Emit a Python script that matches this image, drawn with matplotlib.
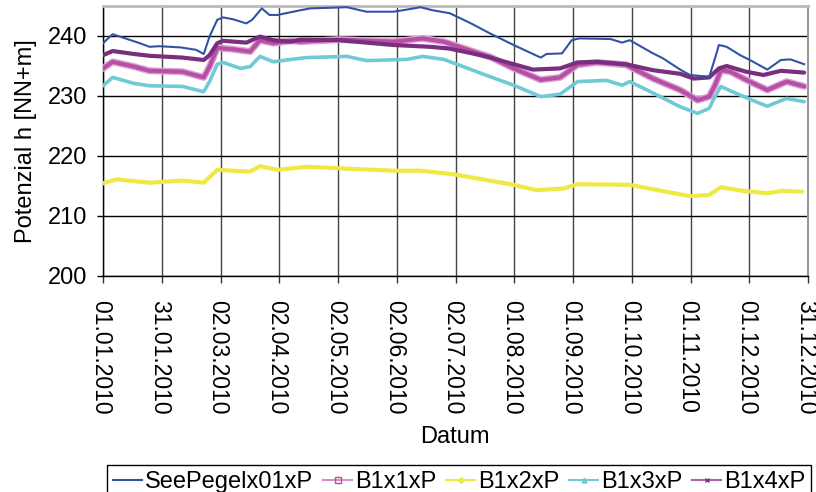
import matplotlib
matplotlib.use("Agg")
import matplotlib.pyplot as plt
from matplotlib.lines import Line2D
import numpy as np

plt.rcParams['font.family'] = ['Liberation Sans', 'DejaVu Sans']

# ---- data (day of year 2010, value in NN+m) ----
see_day = [0, 5, 19, 24, 29, 40, 48, 52, 55, 59, 62, 67, 74, 77, 82, 86, 90, 102, 107, 126, 136, 150, 155, 164, 170, 179, 190, 200, 212, 226, 229, 237, 242, 246, 262, 268, 272, 284, 289, 298, 303, 313, 316, 318, 322, 329, 334, 343, 350, 355, 362]
see_val = [238.8, 240.3, 238.8, 238.2, 238.3, 238.1, 237.7, 237.0, 239.9, 242.7, 243.1, 242.8, 242.1, 242.7, 244.6, 243.5, 243.5, 244.3, 244.6, 244.8, 244.05, 244.05, 244.3, 244.8, 244.3, 243.8, 242.1, 240.4, 238.5, 236.4, 237.0, 237.1, 239.3, 239.6, 239.5, 238.9, 239.3, 237.1, 236.3, 234.4, 233.5, 233.2, 236.3, 238.5, 238.2, 236.8, 236.0, 234.4, 236.0, 236.1, 235.3]

b1_day = [0, 5, 16, 24, 41, 52, 55, 59, 67, 76, 81, 88, 97, 102, 122, 150, 165, 176, 195, 200, 212, 226, 236, 245, 255, 270, 284, 298, 307, 313, 316, 319, 324, 332, 343, 353, 362]
b1_val = [234.6, 235.7, 234.9, 234.2, 234.05, 233.1, 234.9, 238.0, 237.8, 237.4, 239.3, 238.8, 239.2, 239.05, 239.4, 239.05, 239.6, 239.05, 237.0, 236.5, 234.6, 232.7, 233.1, 235.2, 235.6, 235.2, 232.9, 231.0, 229.3, 229.9, 231.8, 234.3, 234.05, 232.7, 231.0, 232.4, 231.6]

b2_day = [0, 7, 24, 41, 52, 59, 67, 76, 81, 90, 105, 122, 150, 164, 182, 212, 224, 238, 245, 272, 303, 313, 319, 330, 343, 351, 361]
b2_val = [215.45, 216.1, 215.55, 215.9, 215.55, 217.7, 217.55, 217.4, 218.3, 217.7, 218.2, 217.95, 217.55, 217.55, 216.9, 215.2, 214.3, 214.6, 215.3, 215.2, 213.3, 213.5, 214.8, 214.2, 213.8, 214.2, 214.05]

b3_day = [0, 5, 16, 24, 41, 52, 55, 59, 62, 71, 76, 81, 88, 97, 105, 126, 136, 157, 165, 176, 195, 200, 212, 226, 236, 245, 260, 268, 272, 284, 298, 307, 313, 315, 319, 325, 339, 343, 353, 362]
b3_val = [231.7, 233.1, 232.1, 231.7, 231.6, 230.7, 232.4, 235.3, 235.6, 234.6, 234.9, 236.6, 235.7, 236.1, 236.4, 236.6, 235.9, 236.1, 236.6, 236.1, 233.8, 233.2, 231.8, 229.9, 230.3, 232.4, 232.6, 231.8, 232.4, 230.5, 228.2, 227.1, 227.95, 229.3, 231.6, 230.7, 228.8, 228.3, 229.6, 229.05]

b4_day = [0, 5, 16, 24, 41, 52, 55, 59, 62, 74, 81, 88, 97, 102, 122, 150, 169, 179, 195, 200, 212, 222, 236, 245, 255, 270, 284, 298, 305, 313, 318, 322, 332, 341, 350, 362]
b4_val = [236.8, 237.5, 237.0, 236.7, 236.4, 236.0, 236.8, 238.8, 239.2, 238.9, 239.9, 239.3, 239.05, 239.4, 239.3, 238.5, 238.2, 237.9, 236.8, 236.4, 235.3, 234.4, 234.6, 235.6, 235.7, 235.3, 234.3, 233.7, 232.9, 233.1, 234.6, 235.0, 234.05, 233.5, 234.2, 233.9]

tick_labels = ["01.01.2010", "31.01.2010", "02.03.2010", "02.04.2010", "02.05.2010",
               "02.06.2010", "02.07.2010", "01.08.2010", "01.09.2010", "01.10.2010",
               "01.11.2010", "01.12.2010", "31.12.2010"]
y_ticks = [200, 210, 220, 230, 240]
series_names = ["SeePegelx01xP", "B1x1xP", "B1x2xP", "B1x3xP", "B1x4xP"]

# ---- styles ----
c_see = "#3153A6"
c_b1 = "#B64FA6"
c_b1_light = "#DDA2D3"
c_b2 = "#EEE945"
c_b3 = "#70CAD6"
c_b4 = "#7A2E7E"
FS = 17

fig = plt.figure(figsize=(8.16, 4.92), dpi=100)
ax = fig.add_axes([103/816, 1-276/492, 705/816, 270/492])

ax.plot(b2_day, b2_val, color=c_b2, lw=3.0, solid_capstyle='round', zorder=3)
ax.plot(b3_day, b3_val, color=c_b3, lw=2.6, solid_capstyle='round', zorder=3)
ax.plot(b1_day, b1_val, color=c_b1_light, lw=5.0, solid_capstyle='round', zorder=3)
ax.plot(b1_day, b1_val, color=c_b1, lw=3.0, solid_capstyle='round', zorder=3)
ax.plot(b4_day, b4_val, color=c_b4, lw=3.0, solid_capstyle='round', zorder=4)
ax.plot(see_day, see_val, color=c_see, lw=1.5, zorder=5)

ax.set_xlim(0, 364)
ax.set_ylim(200, 245)
ax.set_xticks(np.linspace(0, 364, len(tick_labels)))
ax.set_xticklabels(tick_labels, rotation=270, rotation_mode='anchor',
                   fontsize=16.5, ha='left', va='center_baseline')
ax.set_yticks(y_ticks)
ax.set_yticklabels([str(v) for v in y_ticks], fontsize=FS)
ax.tick_params(axis='x', direction='out', length=5, width=1, color='#333333', pad=12)
ax.tick_params(axis='y', direction='out', length=4.5, width=1, color='black', pad=7)

ax.grid(axis='y', color='black', lw=1.0, zorder=1)
ax.grid(axis='x', color='#444444', lw=1.0, zorder=1)
ax.set_axisbelow(True)

for s in ['left', 'bottom']:
    ax.spines[s].set_color('black')
    ax.spines[s].set_linewidth(1.0)
ax.spines['top'].set_color('#BBBBBB')
ax.spines['top'].set_linewidth(2.0)
ax.spines['right'].set_color('#999999')
ax.spines['right'].set_linewidth(1.5)

ax.set_ylabel("Potenzial h [NN+m]", fontsize=FS)
ax.yaxis.set_label_coords(-0.093, 0.5)
fig.text(455/816, 1-437/492, "Datum", fontsize=FS, ha='center', va='center')

handles = [
    Line2D([], [], color=c_see, lw=1.5),
    Line2D([], [], color="#D98ECF", lw=1.5, marker='s', markersize=5, mfc='none', mec=c_b1),
    Line2D([], [], color=c_b2, lw=1.5, marker='D', markersize=3, mfc=c_b2, mec=c_b2),
    Line2D([], [], color=c_b3, lw=1.5, marker='^', markersize=3.5, mfc=c_b3, mec=c_b3),
    Line2D([], [], color="#A860A8", lw=1.5, marker='x', markersize=3.5, mec=c_b4),
]
leg = fig.legend(handles, series_names, loc='upper left',
                 bbox_to_anchor=(107/816, 1-465/492), ncol=5,
                 prop={'size': FS},
                 frameon=True, fancybox=False, edgecolor='black', framealpha=1,
                 handlelength=1.25, handletextpad=0.12, columnspacing=0.4,
                 borderpad=0.25, borderaxespad=0)
leg.get_frame().set_linewidth(1.0)

fig.savefig("out.png", dpi=100)
